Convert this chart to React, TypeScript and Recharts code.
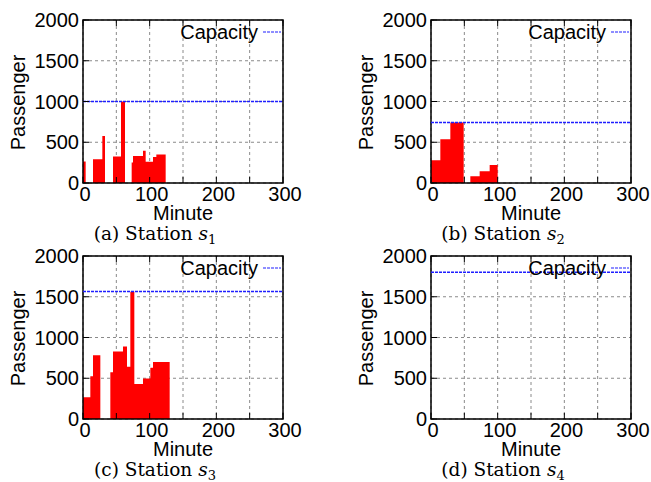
import React from 'react';
import {
  AreaChart,
  Area,
  XAxis,
  YAxis,
  CartesianGrid,
  ReferenceLine,
  ReferenceArea,
  Legend,
} from 'recharts';

// ---- data ----
const xTicks = [0, 50, 100, 150, 200, 250, 300];
const xTickLabels: Record<number, string> = { 0: '0', 100: '100', 200: '200', 300: '300' };
const yTicks = [0, 500, 1000, 1500, 2000];

const s1Minutes = [0, 4, 15, 29, 33, 45, 57, 63, 73, 75, 90, 94, 105, 110, 124, 300];
const s1Passengers = [265, 0, 292, 578, 0, 325, 1000, 0, 252, 330, 395, 262, 318, 350, 0, 0];

const s2Minutes = [0, 14, 29, 49, 59, 73, 88, 100, 300];
const s2Passengers = [280, 537, 742, 0, 84, 145, 220, 0, 0];

const s3Minutes = [0, 11, 15, 26, 41, 45, 60, 66, 71, 77, 90, 101, 105, 130, 300];
const s3Passengers = [267, 525, 783, 0, 575, 828, 889, 640, 1562, 428, 497, 630, 699, 0, 0];

const s4Minutes = [0, 300];
const s4Passengers = [0, 0];

const capacities = [1000, 742, 1565, 1800];
const captionLetters = ['a', 'b', 'c', 'd'];
const stationIndex = ['1', '2', '3', '4'];
const seriesName = 'Capacity';
const xTitle = 'Minute';
const yTitle = 'Passenger';

const stationMinutes = [s1Minutes, s2Minutes, s3Minutes, s4Minutes];
const stationPassengers = [s1Passengers, s2Passengers, s3Passengers, s4Passengers];

// ---- layout ----
const W = 303;
const H = 230;
// plot area: x 83..283, y 20..183 (axes sizes are added to these margins)
const M = { top: 19, left: 73, right: 19, bottom: 37 };
const panelPos = [
  { left: 0, top: 0 },
  { left: 348, top: 0 },
  { left: 0, top: 236 },
  { left: 348, top: 236 },
];
const SANS = '"Liberation Sans", Arial, Helvetica, sans-serif';
const SERIF = '"DejaVu Serif", "Liberation Serif", serif';
const BLUE = '#1f1fff';

const NoTick = () => <g />;

function Panel({ idx }: { idx: number }) {
  const minutes = stationMinutes[idx];
  const passengers = stationPassengers[idx];
  const data = minutes.map((m, i) => ({ m, v: passengers[i] }));
  const pos = panelPos[idx];
  const tickStyle = { fontSize: 20, fill: '#000', fontFamily: SANS };
  const innerTick = { stroke: '#000', strokeWidth: 1 };
  return (
    <div style={{ position: 'absolute', left: pos.left, top: pos.top, width: 330, height: 250 }}>
      <AreaChart width={W} height={H} data={data} margin={M}>
        <CartesianGrid stroke="#8a8a8a" strokeDasharray="3 3" strokeWidth={1} />
        <XAxis
          dataKey="m"
          type="number"
          domain={[0, 300]}
          ticks={xTicks}
          interval={0}
          height={10}
          axisLine={false}
          tickLine={innerTick}
          tickSize={-6}
          tickMargin={10}
          tick={{ ...tickStyle, dx: 2 }}
          tickFormatter={(v: number) => xTickLabels[v] ?? ''}
          allowDataOverflow
        />
        <XAxis
          xAxisId="t"
          orientation="top"
          dataKey="m"
          type="number"
          domain={[0, 300]}
          ticks={xTicks}
          interval={0}
          height={1}
          axisLine={false}
          tickSize={-6}
          tickLine={innerTick}
          tick={NoTick}
        />
        <YAxis
          type="number"
          domain={[0, 2000]}
          ticks={yTicks}
          interval={0}
          width={10}
          axisLine={false}
          tickLine={innerTick}
          tickSize={-6}
          tickMargin={10}
          tick={tickStyle}
          allowDataOverflow
        />
        <YAxis
          yAxisId="r"
          orientation="right"
          type="number"
          domain={[0, 2000]}
          ticks={yTicks}
          interval={0}
          width={1}
          axisLine={false}
          tickSize={-6}
          tickLine={innerTick}
          tick={NoTick}
        />
        <Area
          type="stepAfter"
          dataKey="v"
          stroke="none"
          fill="#ff0000"
          fillOpacity={1}
          isAnimationActive={false}
          dot={false}
          activeDot={false}
        />
        <ReferenceLine
          y={capacities[idx]}
          stroke={BLUE}
          strokeDasharray="3 1"
          strokeWidth={1.4}
        />
        <ReferenceArea
          x1={0}
          x2={300}
          y1={0}
          y2={2000}
          fill="none"
          fillOpacity={0}
          stroke="#000"
          strokeWidth={1.5}
          ifOverflow="visible"
        />
        <Legend
          layout="vertical"
          align="center"
          verticalAlign="middle"
          wrapperStyle={{ left: 0, top: 0, width: W, height: 60 }}
          content={() => (
            <svg width={W} height={60} style={{ display: 'block' }}>
              <text
                x={258}
                y={39}
                textAnchor="end"
                fontFamily={SANS}
                fontSize={20}
                fill="#000"
              >
                {seriesName}
              </text>
              <line x1={263} x2={281} y1={32} y2={32} stroke={BLUE} strokeDasharray="3 1" strokeWidth={1.2} />
            </svg>
          )}
        />
      </AreaChart>
      <svg
        width={330}
        height={250}
        style={{ position: 'absolute', left: 0, top: 0, pointerEvents: 'none' }}
      >
        <text
          transform="translate(24.5,102.5) rotate(-90)"
          textAnchor="middle"
          fontFamily={SANS}
          fontSize={20}
          fill="#000"
        >
          {yTitle}
        </text>
        <text x={183} y={220} textAnchor="middle" fontFamily={SANS} fontSize={20} fill="#000">
          {xTitle}
        </text>
        <text x={155} y={240} textAnchor="middle" fontFamily={SERIF} fontSize={18.5} fill="#000">
          ({captionLetters[idx]}) Station{' '}
          <tspan fontStyle="italic">s</tspan>
          <tspan fontSize={13} dy={4}>
            {stationIndex[idx]}
          </tspan>
        </text>
      </svg>
    </div>
  );
}

export default function App() {
  return (
    <div style={{ position: 'absolute', left: 0, top: 0, width: 651, height: 482, background: '#fff' }}>
      {[0, 1, 2, 3].map((i) => (
        <Panel key={i} idx={i} />
      ))}
    </div>
  );
}
